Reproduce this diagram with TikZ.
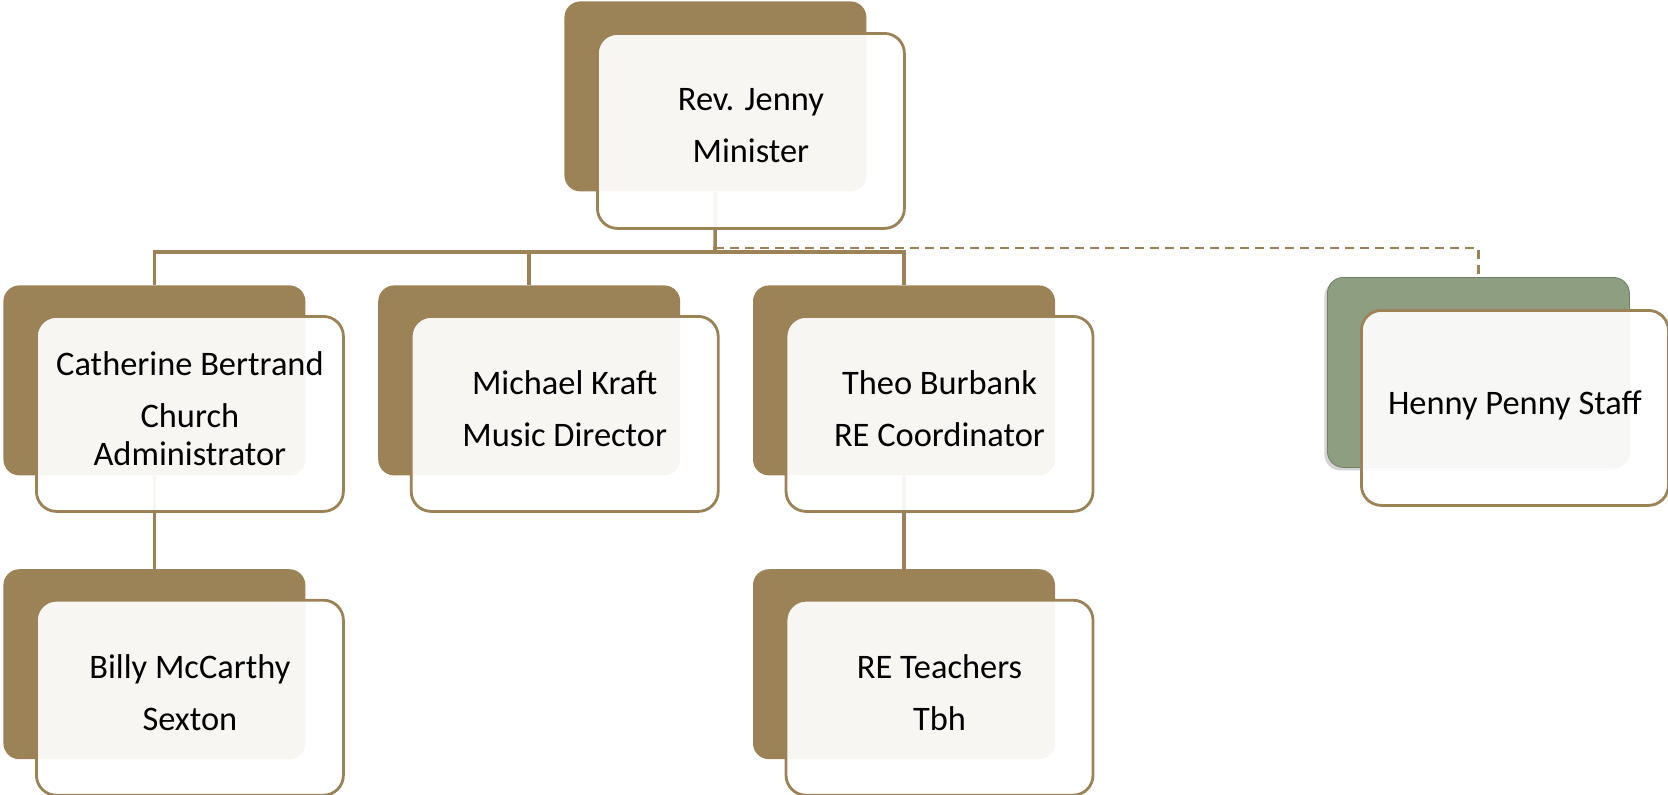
\documentclass[tikz,border=0pt]{standalone}
\usepackage{fontspec}
\setmainfont{Carlito}
\usepackage{xcolor}
\usetikzlibrary{positioning,shadows}

\definecolor{churchbrown}{HTML}{9C8257}
\definecolor{staffgreen}{HTML}{8E9E80}

\begin{document}
\begin{tikzpicture}[
  x=0.5pt, y=-0.5pt,
  font=\fontsize{17.2}{19}\selectfont,
  back/.style={
    anchor=north west,
    fill=churchbrown,
    rounded corners=8pt,
    minimum width=151pt,
    minimum height=95pt,
    inner sep=0pt
  },
  staffback/.style={back, fill=staffgreen, draw=staffgreen!80!black, line width=0.4pt,
    drop shadow={shadow xshift=-1.5pt, shadow yshift=-1.5pt, opacity=0.35}},
  front/.style={
    anchor=north west,
    draw=churchbrown,
    line width=1.4pt,
    rounded corners=10pt,
    fill=white, fill opacity=0.93, text opacity=1,
    minimum width=153.5pt,
    minimum height=97.5pt,
    align=center,
    text depth=5pt,
    inner sep=2pt
  },
  link/.style={draw=churchbrown, line width=1.8pt},
  dashlink/.style={draw=churchbrown, line width=1.2pt, dash pattern=on 4.5pt off 3pt}
]
  \useasboundingbox (0,0) rectangle (1668,794);

  % back plates
  \node[back] (minB) at (564,1) {};
  \node[back] (catB) at (3,285) {};
  \node[back, right=36pt of catB] (mikB) {};
  \node[back, right=36pt of mikB] (theoB) {};
  \node[staffback] (staffB) at (1327,277) {};
  \node[back, below=46.5pt of catB] (billyB) {};
  \node[back, below=46.5pt of theoB] (reB) {};

  % connectors
  \coordinate (bus) at (715,252);
  \coordinate (dbus) at (715,248);
  \draw[link] (minB.south) -- (bus);
  \draw[link] (bus) -| (catB.north);
  \draw[link] (bus) -| (mikB.north);
  \draw[link] (bus) -| (theoB.north);
  \draw[dashlink] (dbus) -| (staffB.north);
  \draw[link] (catB.south) -- (billyB.north);
  \draw[link] (theoB.south) -- (reB.north);

  % front cards
  \node[front] (min) at ([shift={(32,31)}]minB.north west) {Rev. Jenny\\[7pt]Minister};
  \node[front] (cat) at ([shift={(32,30)}]catB.north west) {Catherine Bertrand\\[7pt]Church\\Administrator};
  \node[front] (mik) at ([shift={(32,30)}]mikB.north west) {Michael Kraft\\[7pt]Music Director};
  \node[front] (theo) at ([shift={(32,30)}]theoB.north west) {Theo Burbank\\[7pt]RE Coordinator};
  \node[front] (staff) at ([shift={(33,32)}]staffB.north west) {Henny Penny Staff};
  \node[front] (billy) at ([shift={(32,30)}]billyB.north west) {Billy McCarthy\\[7pt]Sexton};
  \node[front] (re) at ([shift={(32,30)}]reB.north west) {RE Teachers\\[7pt]Tbh};
\end{tikzpicture}
\end{document}
